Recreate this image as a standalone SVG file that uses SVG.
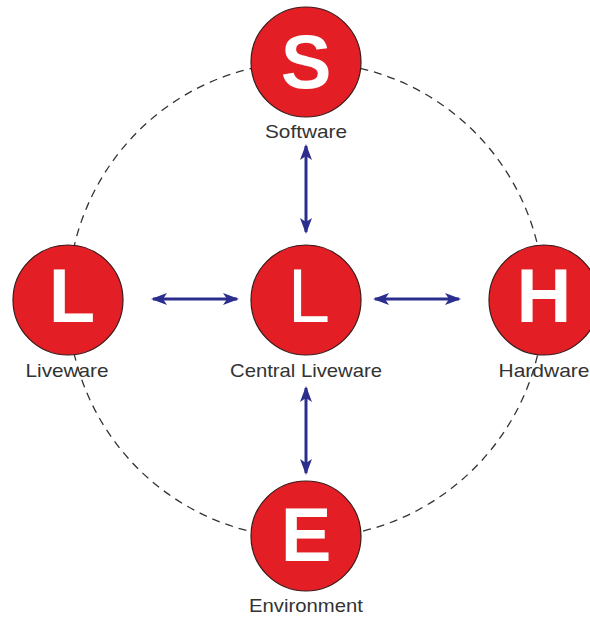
<svg xmlns="http://www.w3.org/2000/svg" width="590" height="621" viewBox="0 0 590 621">
<style>
.ring{fill:none;stroke:#333;stroke-width:1.3;stroke-dasharray:8 6}
.node{fill:#e31e25;stroke:#3a1a1a;stroke-width:1.2}
.big{font-family:"Liberation Sans",Arial,sans-serif;font-weight:bold;font-size:76px;fill:#fff;text-anchor:middle}
.big.reg{font-weight:normal}
.lbl{font-family:"Liberation Sans",Arial,sans-serif;font-size:19px;fill:#333;text-anchor:middle}
.arr{stroke:#2b2e8c;stroke-width:3;fill:none;marker-start:url(#ah);marker-end:url(#ah)}
</style>
<defs>
<marker id="ah" viewBox="0 0 16 12" refX="14" refY="6" markerWidth="16" markerHeight="12" markerUnits="userSpaceOnUse" orient="auto-start-reverse">
<path d="M0,0 L16,6 L0,12 L4,6 Z" fill="#2b2e8c"/>
</marker>
</defs>
<rect width="590" height="621" fill="#fff"/>
<circle class="ring" cx="306" cy="300" r="238"/>
<g id="connectors">
<line class="arr" x1="306" y1="146" x2="306" y2="232"/>
<line class="arr" x1="153" y1="299" x2="237" y2="299"/>
<line class="arr" x1="375" y1="299" x2="459" y2="299"/>
<line class="arr" x1="306" y1="388" x2="306" y2="473"/>
</g>
<g id="software">
<circle class="node" cx="306" cy="62" r="55"/>
<text class="big" x="306" y="88">S</text>
<text class="lbl" x="306" y="138" textLength="82" lengthAdjust="spacingAndGlyphs">Software</text>
</g>
<g id="liveware">
<circle class="node" cx="68" cy="300" r="55"/>
<text class="big" x="72" y="322">L</text>
<text class="lbl" x="67" y="377" textLength="83" lengthAdjust="spacingAndGlyphs">Liveware</text>
</g>
<g id="central">
<circle class="node" cx="306" cy="300" r="55"/>
<text class="big reg" x="309" y="322">L</text>
<text class="lbl" x="306" y="377" textLength="152" lengthAdjust="spacingAndGlyphs">Central Liveware</text>
</g>
<g id="hardware">
<circle class="node" cx="544" cy="300" r="55"/>
<text class="big" x="544" y="322">H</text>
<text class="lbl" x="544" y="377" textLength="91" lengthAdjust="spacingAndGlyphs">Hardware</text>
</g>
<g id="environment">
<circle class="node" cx="306" cy="536" r="55"/>
<text class="big" x="306" y="561">E</text>
<text class="lbl" x="306" y="612" textLength="114" lengthAdjust="spacingAndGlyphs">Environment</text>
</g>
</svg>
